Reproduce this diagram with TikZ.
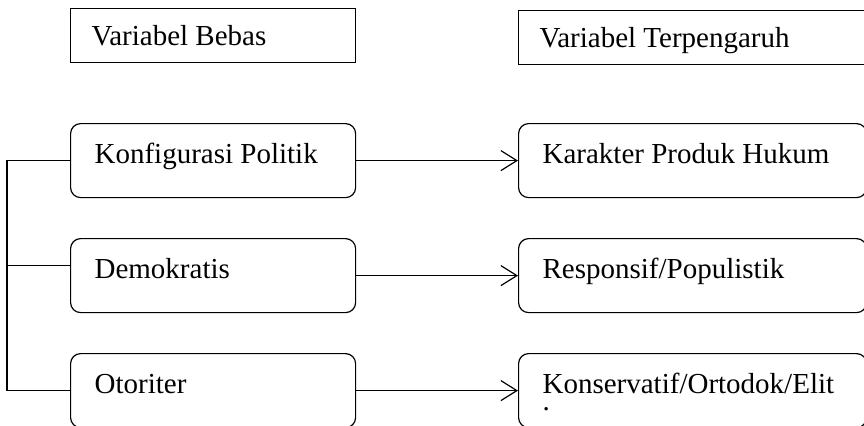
\documentclass[tikz,border=0pt]{standalone}
\usepackage{fontspec}
\setmainfont{Liberation Serif}
\usetikzlibrary{arrows.meta}

\tikzset{
    varbox/.style={draw, anchor=north west, align=flush left,
        inner xsep=10.5pt, inner ysep=6.5pt, text height=12pt, text depth=2pt,
        font=\fontsize{14.5pt}{17.5pt}\selectfont},
    rowbox/.style={varbox, rounded corners=5pt,
        inner xsep=12pt, inner ysep=8pt, text depth=9pt}
}

\begin{document}
\begin{tikzpicture}[x=0.5pt, y=-0.5pt, line width=0.6pt,
    >={Straight Barb[length=8pt,width=10pt]}]
    \useasboundingbox (0,0) rectangle (864,425);

    \node[varbox, text width=121.5pt] (bebas) at (70,8) {Variabel Bebas};
    \node[varbox, text width=153pt] (terpengaruh) at (518,10) {Variabel Terpengaruh};

    \node[rowbox, text width=118.5pt] (konfigurasi) at (70,123) {Konfigurasi Politik};
    \node[rowbox, text width=118.5pt] (demokratis) at (70,238) {Demokratis};
    \node[rowbox, text width=118.5pt] (otoriter) at (70,353) {Otoriter};

    \node[rowbox, text width=150pt] (karakter) at (518,123) {Karakter Produk Hukum};
    \node[rowbox, text width=150pt] (responsif) at (518,238) {Responsif/Populistik};
    \node[rowbox, text width=150pt] (konservatif) at (518,353)
        {Konservatif/Ortodok/Elit\\[-9pt].};

    \draw (konfigurasi.west) -- ++(-31.5pt,0) coordinate (rail) |- (otoriter.west);
    \draw ([yshift=5pt]demokratis.west) -- ([yshift=5pt]demokratis.west -| rail);

    \foreach \a/\b in {konfigurasi/karakter,demokratis/responsif,otoriter/konservatif}
        \draw[->] (\a) -- (\b);
\end{tikzpicture}
\end{document}
